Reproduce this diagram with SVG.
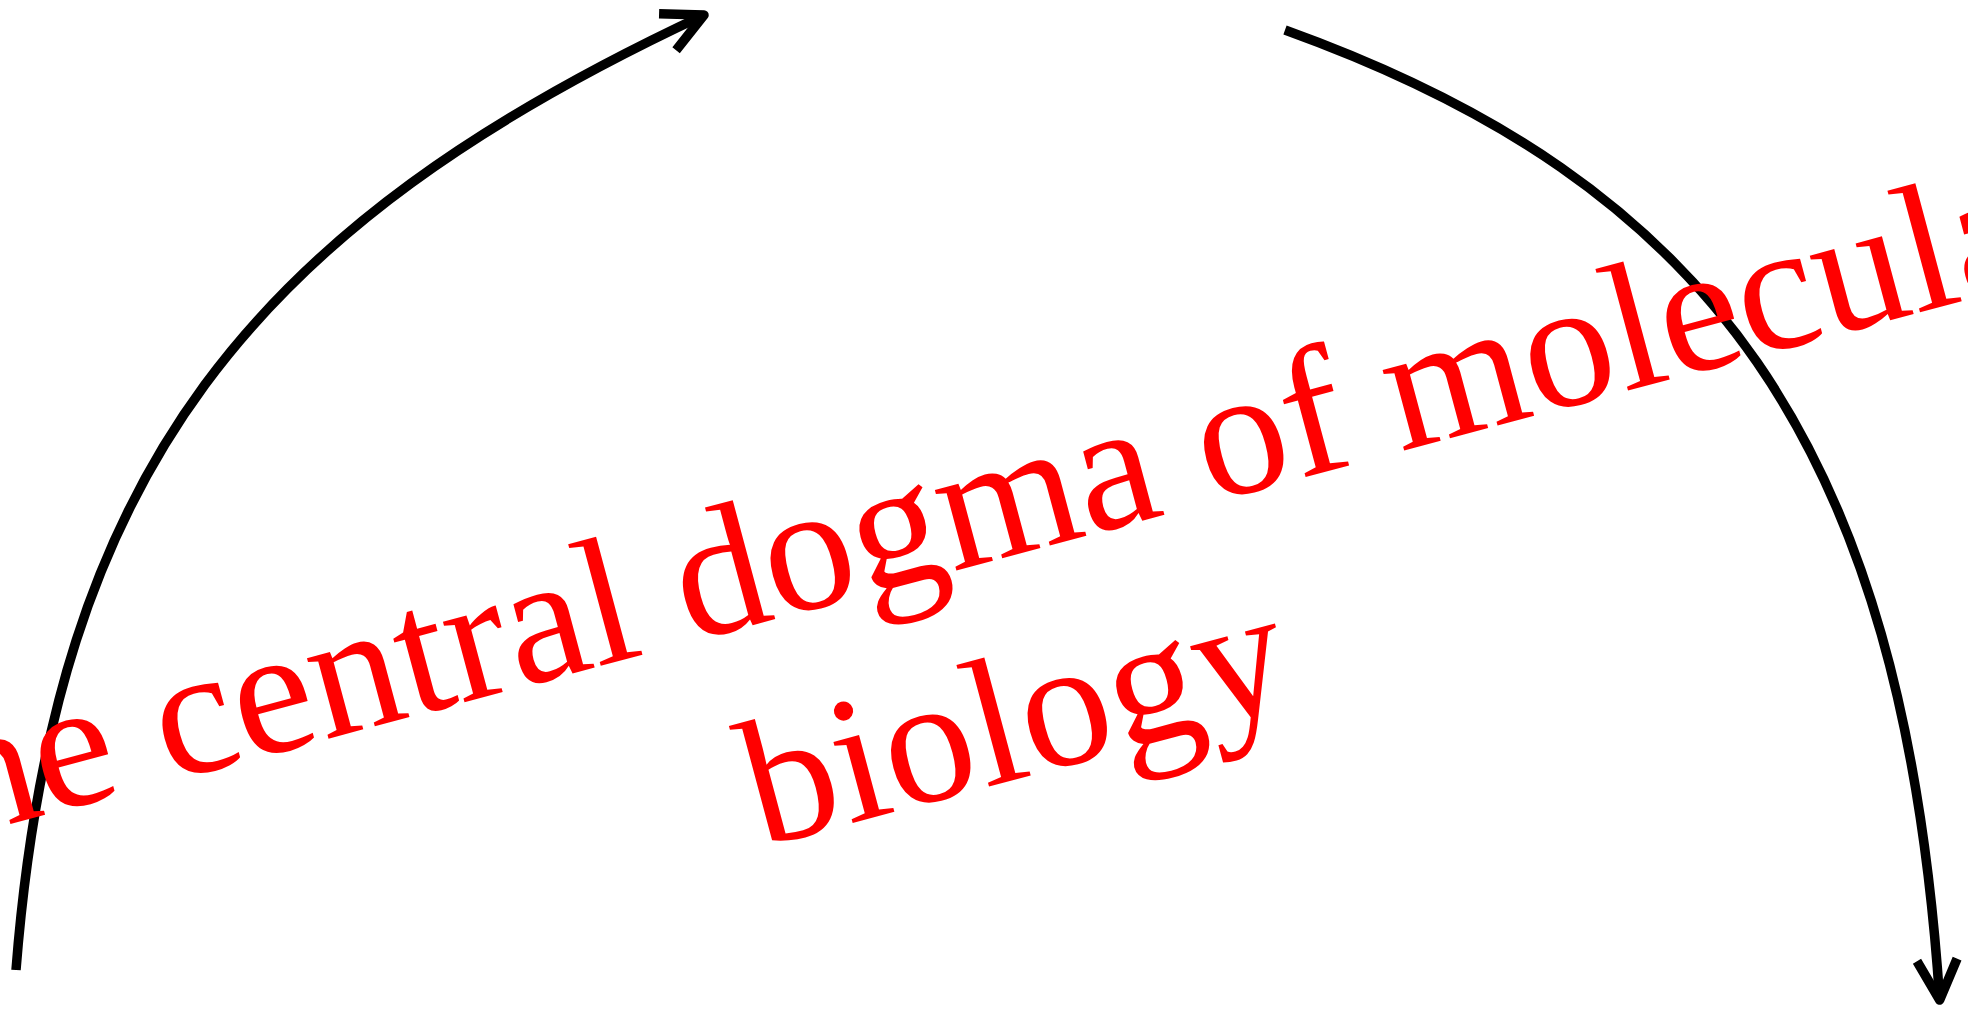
<svg xmlns="http://www.w3.org/2000/svg" width="1968" height="1011" viewBox="0 0 1968 1011">
  <style>
    .arc { fill: none; stroke: #000000; stroke-width: 9.5; stroke-linecap: butt; marker-end: url(#head); }
    .label { font-family: "Liberation Serif", "Times New Roman", serif; font-size: 181.5px; fill: #ff0000; text-anchor: middle; }
  </style>
  <defs>
    <marker id="head" markerUnits="userSpaceOnUse" orient="auto" refX="0" refY="0" markerWidth="120" markerHeight="120" overflow="visible">
      <path d="M -40.2 -20.1 L 0 0 L -40.2 20.1" fill="none" stroke="#000000" stroke-width="9.5" stroke-linejoin="round" stroke-linecap="butt"/>
    </marker>
  </defs>
  <rect x="0" y="0" width="1968" height="1011" fill="#ffffff"/>
  <g id="connectors">
    <path id="arc-left" class="arc" d="M 16 970 C 55 471.5 251 226.5 704 15"/>
    <path id="arc-right" class="arc" d="M 1285 30 C 1708.5 182.5 1902.5 441 1939.7 1000"/>
  </g>
  <g id="label" transform="translate(977 565) rotate(-15)">
    <text class="label" x="0" y="0">The central dogma of molecular</text>
    <text class="label" x="-4" y="217">biology</text>
  </g>
</svg>
